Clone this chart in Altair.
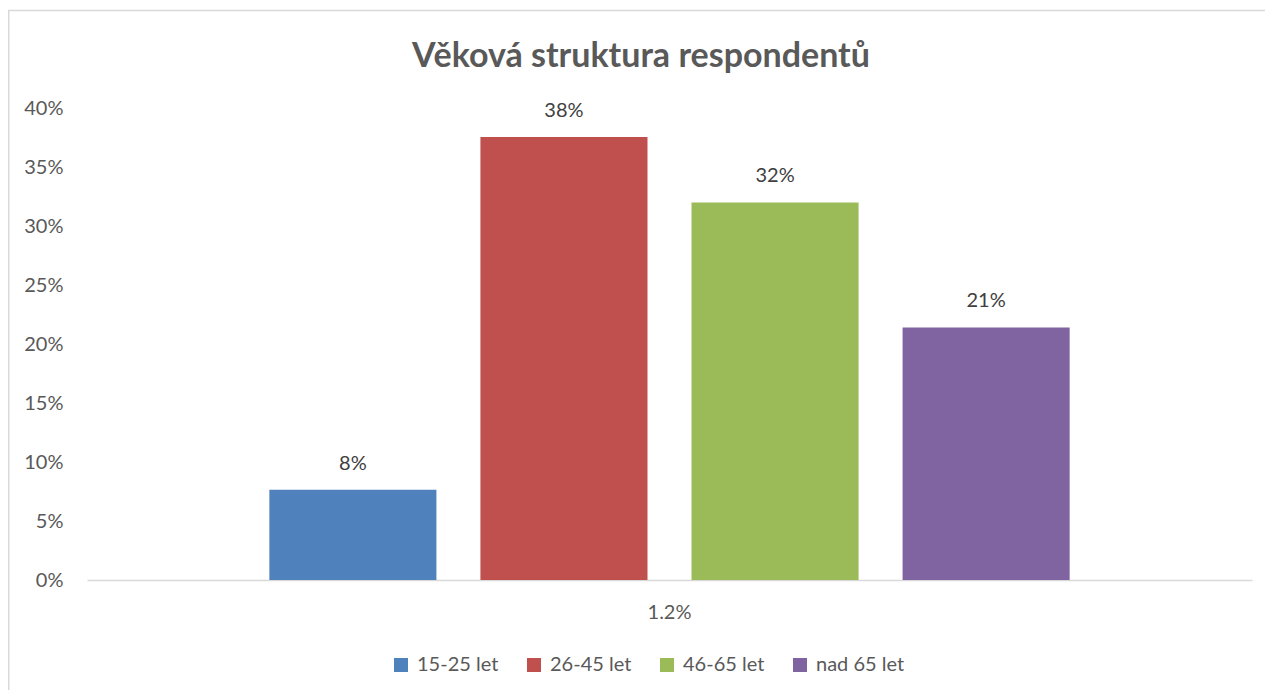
import altair as alt
import pandas as pd

# --- data ---
kategorie = ["15-25 let", "26-45 let", "46-65 let", "nad 65 let"]
hodnoty = [0.0765, 0.3755, 0.320, 0.214]
barvy = ["#4f81bd", "#c0504d", "#9bbb59", "#8064a2"]
skupina = "1.2%"
y_ticks = [0, 0.05, 0.10, 0.15, 0.20, 0.25, 0.30, 0.35, 0.40]
nadpis = "Věková struktura respondentů"

df = pd.DataFrame({"skupina": [skupina] * len(kategorie), "vek": kategorie, "hodnota": hodnoty})

FONT = "Lato"
GRAY = "#595959"
FS = 20

x_enc = alt.X("skupina:N", title=None,
              scale=alt.Scale(paddingInner=0, paddingOuter=0.19),
              axis=alt.Axis(labelAngle=0, ticks=False, domainColor="#d9d9d9", domainWidth=1.5,
                            labelFontSize=FS, labelColor=GRAY, labelFont=FONT, labelPadding=22))
xo_enc = alt.XOffset("vek:N", sort=kategorie,
                     scale=alt.Scale(paddingInner=0.2085, paddingOuter=0.104))
y_enc = alt.Y("hodnota:Q", title=None,
              scale=alt.Scale(domain=[0, 0.4], nice=False),
              axis=alt.Axis(values=y_ticks, format=".0%", grid=False, domain=False, ticks=False,
                            labelFontSize=FS, labelColor=GRAY, labelFont=FONT, labelPadding=24))

base = alt.Chart(df)

bars = base.mark_bar().encode(
    x=x_enc, xOffset=xo_enc, y=y_enc,
    color=alt.Color("vek:N", sort=kategorie,
                    scale=alt.Scale(domain=kategorie, range=barvy),
                    legend=alt.Legend(title=None, orient="none", direction="horizontal",
                                      legendX=304, legendY=547, padding=0,
                                      symbolType="square", symbolSize=196, symbolStrokeWidth=0,
                                      labelFontSize=FS, labelColor=GRAY, labelFont=FONT,
                                      labelOffset=6, columnPadding=25)),
)

labels = base.mark_text(dy=-26, fontSize=FS, color="#404040", font=FONT).encode(
    x=x_enc, xOffset=xo_enc, y=y_enc,
    text=alt.Text("hodnota:Q", format=".0%"),
)

title_df = pd.DataFrame({"t": [nadpis]})
title = alt.Chart(title_df).mark_text(fontSize=34, fontWeight="bold", color=GRAY, font=FONT,
                                      align="center", baseline="alphabetic").encode(
    text="t:N", x=alt.value(554), y=alt.value(-41)
)

border_df = pd.DataFrame({"b": [0]})
border = alt.Chart(border_df).mark_rect(fill=None, stroke="#d9d9d9", strokeWidth=1.5).encode(
    x=alt.value(-78.25), x2=alt.value(1300), y=alt.value(-97.5), y2=alt.value(700)
)

chart = alt.layer(border, bars, labels, title).properties(
    width=1165, height=472,
    padding={"left": 79, "top": 100, "right": 13, "bottom": 110},
    autosize=alt.AutoSizeParams(type="none"),
).configure_view(stroke=None)

chart.save("out.html", embed_options={"renderer": "svg", "actions": False})
